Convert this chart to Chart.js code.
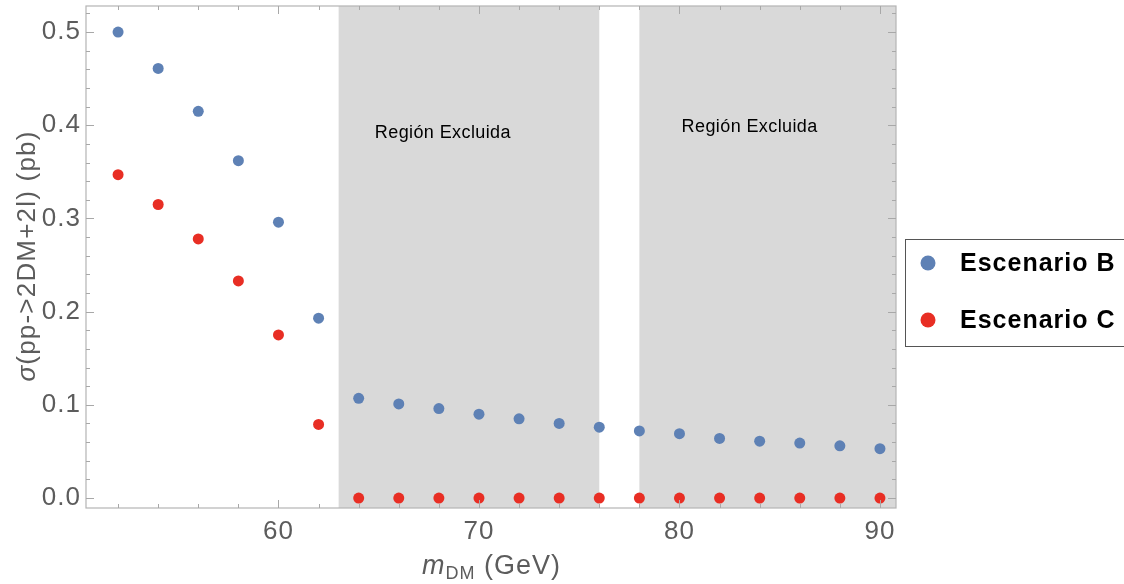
<!DOCTYPE html>
<html>
<head>
<meta charset="utf-8">
<script src="https://cdn.jsdelivr.net/npm/chart.js@4"></script>
<style>
  html, body { margin: 0; padding: 0; background: #fff; }
  #wrap { width: 1124px; height: 584px; }
</style>
</head>
<body>
<div id="wrap"><canvas id="plot" width="1124" height="584"></canvas></div>
<script>
// masses (GeV) and cross sections (pb)
var masses = [52, 54, 56, 58, 60, 62, 64, 66, 68, 70, 72, 74, 76, 78, 80, 82, 84, 86, 88, 90];
var escB = [0.500, 0.461, 0.415, 0.362, 0.296, 0.193, 0.107, 0.101, 0.096, 0.090, 0.085, 0.080,
            0.076, 0.072, 0.069, 0.064, 0.061, 0.059, 0.056, 0.053];
var escC = [0.347, 0.315, 0.278, 0.233, 0.175, 0.079, 0, 0, 0, 0, 0, 0, 0, 0, 0, 0, 0, 0, 0, 0];
var seriesNames = ['Escenario B', 'Escenario C'];

var xMajor = [60, 70, 80, 90];
var xMinor = [52, 54, 56, 58, 62, 64, 66, 68, 72, 74, 76, 78, 82, 84, 86, 88];
var yMajor = [0, 0.1, 0.2, 0.3, 0.4, 0.5];
var yMinor = [0.02, 0.04, 0.06, 0.08, 0.12, 0.14, 0.16, 0.18, 0.22, 0.24, 0.26, 0.28,
              0.32, 0.34, 0.36, 0.38, 0.42, 0.44, 0.46, 0.48, 0.52];

// excluded mass windows and their captions
var excluded = [[63, 76], [78, 91]];
var excludedText = 'Región Excluida';
var excludedPos = [[68.2, 0.392], [83.5, 0.398]];

var FONT = "'Liberation Sans', Arial, Helvetica, sans-serif";
var blue = 'rgb(94, 129, 181)';
var red = 'rgb(232, 46, 36)';

function pts(ys) {
  return masses.map(function (m, i) { return { x: m, y: ys[i] }; });
}

// labels in this plot are drawn a bit loosely spaced
function spacing(chart) { chart.ctx.letterSpacing = '1px'; }

var frame = {
  id: 'frame',
  beforeUpdate: spacing,
  beforeDraw: spacing,
  beforeDatasetsDraw: function (chart) {
    var c = chart.ctx, a = chart.chartArea, xs = chart.scales.x;
    c.save();
    c.fillStyle = '#d9d9d9';
    excluded.forEach(function (r) {
      var x0 = Math.max(xs.getPixelForValue(r[0]), a.left);
      var x1 = Math.min(xs.getPixelForValue(r[1]), a.right);
      c.fillRect(x0, a.top, x1 - x0, a.bottom - a.top);
    });
    c.fillStyle = '#000';
    c.font = '18px ' + FONT;
    c.letterSpacing = '0.4px';
    c.textAlign = 'center';
    c.textBaseline = 'middle';
    excludedPos.forEach(function (p) {
      c.fillText(excludedText, xs.getPixelForValue(p[0]), chart.scales.y.getPixelForValue(p[1]));
    });
    c.restore();
  },
  afterDraw: function (chart) {
    var c = chart.ctx, a = chart.chartArea, xs = chart.scales.x, ys = chart.scales.y;
    c.save();
    // frame
    c.strokeStyle = '#b4b4b4';
    c.lineWidth = 1.2;
    c.strokeRect(a.left, a.top, a.right - a.left, a.bottom - a.top);
    // inward ticks
    c.lineWidth = 1;
    c.strokeStyle = '#a8a8a8';
    function xt(v, len) {
      var p = Math.round(xs.getPixelForValue(v)) + 0.5;
      c.beginPath();
      c.moveTo(p, a.bottom); c.lineTo(p, a.bottom - len);
      c.moveTo(p, a.top); c.lineTo(p, a.top + len);
      c.stroke();
    }
    function yt(v, len) {
      var p = Math.round(ys.getPixelForValue(v)) + 0.5;
      c.beginPath();
      c.moveTo(a.left, p); c.lineTo(a.left + len, p);
      c.moveTo(a.right, p); c.lineTo(a.right - len, p);
      c.stroke();
    }
    xMajor.forEach(function (v) { xt(v, 8); });
    xMinor.forEach(function (v) { xt(v, 4); });
    yMajor.forEach(function (v) { yt(v, 8); });
    yMinor.forEach(function (v) { yt(v, 4); });

    // x title: m_DM (GeV)
    c.fillStyle = '#5c5c5c';
    c.textBaseline = 'alphabetic';
    c.textAlign = 'left';
    c.letterSpacing = '1px';
    var parts = [['italic 27px ' + FONT, 'm', 0], ['18px ' + FONT, 'DM', 5], ['27px ' + FONT, ' (GeV)', 0]];
    var w = 0;
    parts.forEach(function (p) { c.font = p[0]; w += c.measureText(p[1]).width; });
    var x = 422, base = 574;
    parts.forEach(function (p) {
      c.font = p[0]; c.fillText(p[1], x, base + p[2]); x += c.measureText(p[1]).width;
    });

    // y title: sigma(pp->2DM+2l) (pb)
    c.translate(35, 256);
    c.rotate(-Math.PI / 2);
    c.letterSpacing = '1.2px';
    var yparts = [['italic 26px ' + FONT, 'σ'], ['26px ' + FONT, '(pp->2DM+2l) (pb)']];
    w = 0;
    yparts.forEach(function (p) { c.font = p[0]; w += c.measureText(p[1]).width; });
    x = -w / 2;
    yparts.forEach(function (p) {
      c.font = p[0]; c.fillText(p[1], x, 0); x += c.measureText(p[1]).width;
    });
    c.restore();

    // legend box
    c.save();
    c.strokeStyle = '#555';
    c.lineWidth = 1;
    c.strokeRect(905.5, 239.5, 230, 107);
    c.letterSpacing = '1px';
    chart.data.datasets.forEach(function (ds, i) {
      var cy = 263 + i * 57;
      c.fillStyle = ds.backgroundColor;
      c.beginPath(); c.arc(928, cy, 7.5, 0, Math.PI * 2); c.fill();
      c.fillStyle = '#000';
      c.font = 'bold 25px ' + FONT;
      c.textBaseline = 'middle';
      c.fillText(ds.label, 960, cy + 1);
    });
    c.restore();
  }
};

new Chart(document.getElementById('plot').getContext('2d'), {
  type: 'scatter',
  data: {
    datasets: [
      { label: seriesNames[0], data: pts(escB), backgroundColor: blue, borderColor: blue, pointRadius: 5.5, borderWidth: 0 },
      { label: seriesNames[1], data: pts(escC), backgroundColor: red, borderColor: red, pointRadius: 5.5, borderWidth: 0 }
    ]
  },
  options: {
    responsive: false,
    animation: false,
    layout: { padding: { top: 6, right: 228, left: 0, bottom: 0 } },
    plugins: { legend: { display: false }, tooltip: { enabled: false } },
    scales: {
      x: {
        type: 'linear', min: 50.4, max: 90.8,
        grid: { display: false, drawTicks: false },
        border: { display: false },
        afterBuildTicks: function (s) { s.ticks = xMajor.map(function (v) { return { value: v }; }); },
        afterFit: function (s) { s.height = 76; s.paddingLeft = 0; s.paddingRight = 0; },
        ticks: { font: { family: FONT, size: 26 }, color: '#5c5c5c', padding: 8, maxRotation: 0 }
      },
      y: {
        min: -0.0107, max: 0.528,
        grid: { display: false, drawTicks: false },
        border: { display: false },
        afterBuildTicks: function (s) { s.ticks = yMajor.map(function (v) { return { value: v }; }); },
        afterFit: function (s) { s.width = 86; s.paddingTop = 0; s.paddingBottom = 0; },
        ticks: {
          font: { family: FONT, size: 26 }, color: '#5c5c5c', padding: 5,
          callback: function (v) { return v.toFixed(1); }
        }
      }
    }
  },
  plugins: [frame]
});
</script>
</body>
</html>
